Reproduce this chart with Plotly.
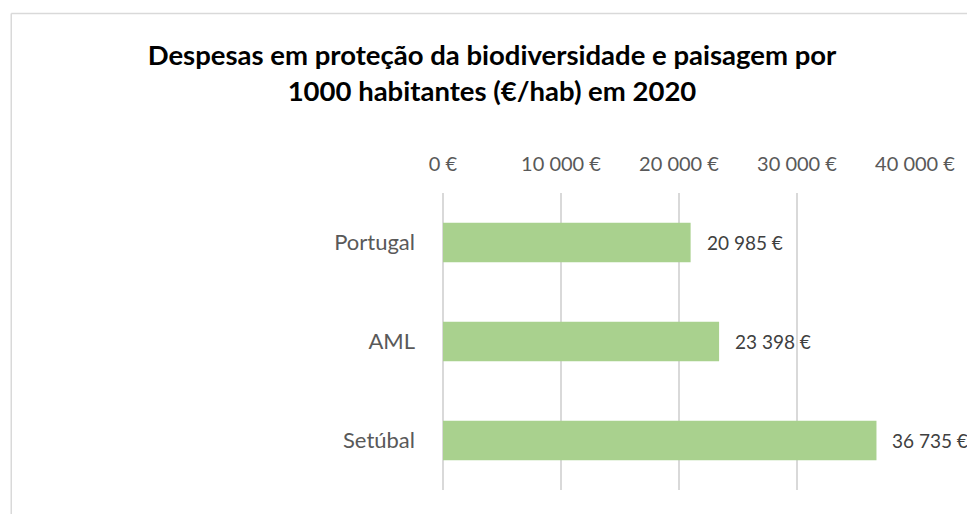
import plotly.graph_objects as go

categories = ["Portugal", "AML", "Setúbal"]
values = [20985, 23398, 36735]
tick_values = [0, 10000, 20000, 30000, 40000]

def fmt(v):
    return f"{v:,}".replace(",", " ") + " €"

tick_labels = [fmt(v) for v in tick_values]
data_labels = [fmt(v) for v in values]

FONT = "Lato"

fig = go.Figure()
fig.add_trace(go.Bar(
    x=values, y=categories, orientation="h",
    marker=dict(color="#A9D18E", line=dict(width=0)),
    width=0.4, hoverinfo="skip",
))

for c, v, t in zip(categories, values, data_labels):
    fig.add_annotation(x=v, y=c, text=t, showarrow=False, xanchor="left",
                       xshift=14, font=dict(family=FONT, size=19, color="#404040"))

fig.update_layout(
    width=967, height=514,
    margin=dict(l=443, r=49, t=193, b=24),
    paper_bgcolor="white", plot_bgcolor="white",
    showlegend=False,
    title=dict(
        text="<b>Despesas em proteção da biodiversidade e paisagem por<br>1000 habitantes (€/hab) em 2020</b>",
        x=492 / 967, xanchor="center", y=1 - 65 / 514, yanchor="middle",
        font=dict(family=FONT, size=27.5, color="#000000"),
    ),
    xaxis=dict(
        side="top", range=[0, 40000], tickvals=tick_values, ticktext=tick_labels,
        showgrid=True, gridcolor="#D9D9D9", gridwidth=1.5,
        zeroline=True, zerolinecolor="#D9D9D9", zerolinewidth=1.5,
        showline=False, ticks="", ticklabelstandoff=17,
        tickfont=dict(family=FONT, size=20, color="#595959"),
    ),
    yaxis=dict(
        categoryorder="array", categoryarray=categories[::-1],
        showgrid=False, zeroline=False, showline=False, ticks="",
        ticklabelstandoff=27,
        tickfont=dict(family=FONT, size=22, color="#595959"),
    ),
)

# chart-area border (extends beyond the visible window on right and bottom)
fig.add_shape(type="line", xref="paper", yref="paper",
              x0=(8.5 - 443) / 475, x1=2, y0=(490 - 13.5) / 297, y1=(490 - 13.5) / 297,
              line=dict(color="#D9D9D9", width=1.5))
fig.add_shape(type="line", xref="paper", yref="paper",
              x0=(8.5 - 443) / 475, x1=(8.5 - 443) / 475, y0=-1, y1=(490 - 13.5) / 297,
              line=dict(color="#D9D9D9", width=1.5))

fig.write_html("out.html", config={"displayModeBar": False},
               post_script="document.body.style.margin='0';")
